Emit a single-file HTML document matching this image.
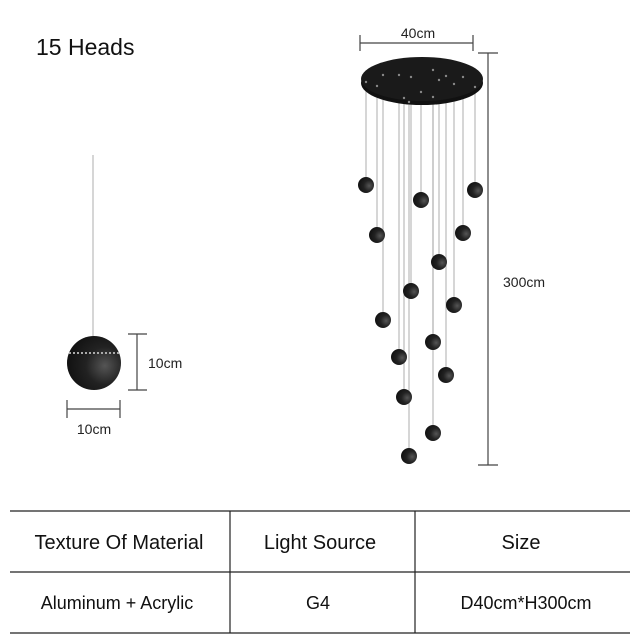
<!DOCTYPE html>
<html><head><style>
body{margin:0;background:#fff;}
svg{display:block;font-family:"Liberation Sans",sans-serif;}
</style></head><body>
<svg width="640" height="640" viewBox="0 0 640 640" xmlns="http://www.w3.org/2000/svg">
<defs>
<radialGradient id="g" cx="0.7" cy="0.55" r="0.7">
<stop offset="0" stop-color="#555"/><stop offset="0.5" stop-color="#222"/><stop offset="1" stop-color="#111"/>
</radialGradient>
</defs>
<text x="36" y="55" font-size="23" fill="#111">15 Heads</text>
<g stroke="#999" stroke-width="0.8">
<line x1="366" y1="80" x2="366" y2="178"/><line x1="421" y1="90" x2="421" y2="193"/>
<line x1="475" y1="85" x2="475" y2="183"/><line x1="377" y1="84" x2="377" y2="228"/>
<line x1="463" y1="75" x2="463" y2="226"/><line x1="439" y1="78" x2="439" y2="255"/>
<line x1="411" y1="75" x2="411" y2="284"/><line x1="454" y1="82" x2="454" y2="298"/>
<line x1="383" y1="73" x2="383" y2="313"/><line x1="433" y1="95" x2="433" y2="335"/>
<line x1="399" y1="73" x2="399" y2="350"/><line x1="446" y1="74" x2="446" y2="368"/>
<line x1="404" y1="96" x2="404" y2="390"/><line x1="433" y1="68" x2="433" y2="426"/>
<line x1="409" y1="100" x2="409" y2="449"/>
<line x1="93" y1="155" x2="93" y2="338"/>
</g>
<!-- canopy -->
<ellipse cx="422" cy="83" rx="61" ry="22" fill="#111"/>
<ellipse cx="422" cy="79" rx="61" ry="22" fill="#1a1a1a"/>
<g fill="#888">
<circle cx="366" cy="82" r="1.2"/><circle cx="377" cy="86" r="1.2"/><circle cx="383" cy="75" r="1.2"/>
<circle cx="399" cy="75" r="1.2"/><circle cx="404" cy="98" r="1.2"/><circle cx="409" cy="102" r="1.2"/>
<circle cx="411" cy="77" r="1.2"/><circle cx="421" cy="92" r="1.2"/><circle cx="433" cy="70" r="1.2"/>
<circle cx="433" cy="97" r="1.2"/><circle cx="439" cy="80" r="1.2"/><circle cx="446" cy="76" r="1.2"/>
<circle cx="454" cy="84" r="1.2"/><circle cx="463" cy="77" r="1.2"/><circle cx="475" cy="87" r="1.2"/>
</g>
<g fill="url(#g)">
<circle cx="366" cy="185" r="8"/><circle cx="421" cy="200" r="8"/><circle cx="475" cy="190" r="8"/>
<circle cx="377" cy="235" r="8"/><circle cx="463" cy="233" r="8"/><circle cx="439" cy="262" r="8"/>
<circle cx="411" cy="291" r="8"/><circle cx="454" cy="305" r="8"/><circle cx="383" cy="320" r="8"/>
<circle cx="433" cy="342" r="8"/><circle cx="399" cy="357" r="8"/><circle cx="446" cy="375" r="8"/>
<circle cx="404" cy="397" r="8"/><circle cx="433" cy="433" r="8"/><circle cx="409" cy="456" r="8"/>
<circle cx="94" cy="363" r="27"/>
</g>
<line x1="69" y1="353" x2="119" y2="353" stroke="#aaa" stroke-width="2" stroke-dasharray="2 2"/>
<g stroke="#444" stroke-width="1.2">
<line x1="360" y1="43" x2="473" y2="43"/><line x1="360" y1="35" x2="360" y2="51"/><line x1="473" y1="35" x2="473" y2="51"/>
<line x1="488" y1="53" x2="488" y2="465"/><line x1="478" y1="53" x2="498" y2="53"/><line x1="478" y1="465" x2="498" y2="465"/>
<line x1="137" y1="334" x2="137" y2="390"/><line x1="128" y1="334" x2="147" y2="334"/><line x1="128" y1="390" x2="147" y2="390"/>
<line x1="67" y1="409" x2="120" y2="409"/><line x1="67" y1="400" x2="67" y2="418"/><line x1="120" y1="400" x2="120" y2="418"/>
</g>
<g font-size="14" fill="#222">
<text x="418" y="38" text-anchor="middle">40cm</text>
<text x="503" y="287">300cm</text>
<text x="148" y="368">10cm</text>
<text x="94" y="434" text-anchor="middle">10cm</text>
</g>
<g stroke="#222" stroke-width="1.2">
<line x1="10" y1="511" x2="630" y2="511"/><line x1="10" y1="572" x2="630" y2="572"/><line x1="10" y1="633" x2="630" y2="633"/>
<line x1="230" y1="511" x2="230" y2="633"/><line x1="415" y1="511" x2="415" y2="633"/>
</g>
<g fill="#111" text-anchor="middle">
<text x="119" y="549" font-size="20">Texture Of Material</text>
<text x="320" y="549" font-size="20">Light Source</text>
<text x="521" y="549" font-size="20">Size</text>
<text x="117" y="609" font-size="18">Aluminum + Acrylic</text>
<text x="318" y="609" font-size="18">G4</text>
<text x="526" y="609" font-size="18">D40cm*H300cm</text>
</g>
</svg>
</body></html>
